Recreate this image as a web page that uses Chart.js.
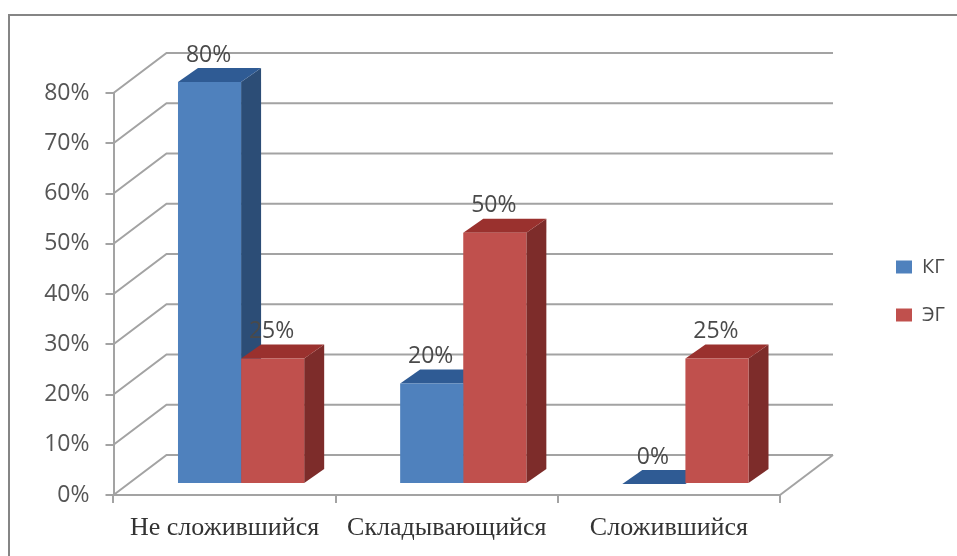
<!DOCTYPE html>
<html>
<head>
<meta charset="utf-8">
<style>
  html, body { margin: 0; padding: 0; background: #fff; }
  #wrap { width: 957px; height: 556px; position: relative; }
</style>
</head>
<body>
<div id="wrap"><canvas id="levelChart"></canvas></div>
<script src="https://cdn.jsdelivr.net/npm/chart.js@4"></script>
<script>
const categories = ['Не сложившийся', 'Складывающийся', 'Сложившийся'];
const kgValues = [80, 20, 0];
const egValues = [25, 50, 25];

// Depth of the box and of the bars, in canvas pixels
const WALL_DX = 53, WALL_DY = -40;
const BAR_SHIFT_X = 16.5, BAR_SHIFT_Y = -11;
const BAR_DX = 20, BAR_DY = -14;

const sansFont = '"Open Sans", sans-serif';

function poly(ctx, pts, color) {
    ctx.fillStyle = color;
    ctx.beginPath();
    pts.forEach((p, i) => i ? ctx.lineTo(p[0], p[1]) : ctx.moveTo(p[0], p[1]));
    ctx.closePath();
    ctx.fill();
}

// Outer frame, left wall diagonals, back wall lines and the floor edge
const boxPlugin = {
    id: 'box',
    beforeDatasetsDraw(chart) {
        const { ctx, chartArea: a, scales: { y } } = chart;
        ctx.save();
        ctx.strokeStyle = '#858585';
        ctx.lineWidth = 2;
        ctx.beginPath();
        ctx.moveTo(9, 556);
        ctx.lineTo(9, 15);
        ctx.lineTo(957, 15);
        ctx.stroke();

        ctx.strokeStyle = '#a3a3a3';
        y.ticks.forEach(t => {
            const py = y.getPixelForValue(t.value);
            ctx.beginPath();
            ctx.moveTo(a.left, py);
            ctx.lineTo(a.left + WALL_DX, py + WALL_DY);
            ctx.lineTo(a.right + WALL_DX, py + WALL_DY);
            ctx.stroke();
        });
        ctx.beginPath();
        ctx.moveTo(a.right, a.bottom);
        ctx.lineTo(a.right + WALL_DX, a.bottom + WALL_DY);
        ctx.stroke();
        ctx.restore();
    }
};

// Side and top faces of every bar go down first; Chart.js then paints the
// front faces on a shifted context, red first and blue after it
const bar3dPlugin = {
    id: 'bar3d',
    beforeDatasetsDraw(chart) {
        const { ctx } = chart;
        ctx.save();
        ctx.translate(BAR_SHIFT_X, BAR_SHIFT_Y);
        chart.data.datasets.forEach((ds, i) => {
            chart.getDatasetMeta(i).data.forEach(bar => {
                const l = bar.x - bar.width / 2, r = bar.x + bar.width / 2;
                poly(ctx, [[r, bar.y], [r + BAR_DX, bar.y + BAR_DY], [r + BAR_DX, bar.base + BAR_DY], [r, bar.base]], ds.sideColor);
                poly(ctx, [[l, bar.y], [l + BAR_DX, bar.y + BAR_DY], [r + BAR_DX, bar.y + BAR_DY], [r, bar.y]], ds.topColor);
            });
        });
        ctx.restore();
    },
    beforeDatasetDraw(chart) {
        chart.ctx.save();
        chart.ctx.translate(BAR_SHIFT_X, BAR_SHIFT_Y);
    },
    afterDatasetDraw(chart) {
        chart.ctx.restore();
    }
};

const valueLabels = {
    id: 'valueLabels',
    afterDatasetsDraw(chart) {
        const { ctx } = chart;
        ctx.save();
        ctx.font = '23px ' + sansFont;
        ctx.fillStyle = '#4a4a4a';
        ctx.textAlign = 'center';
        ctx.textBaseline = 'middle';
        chart.data.datasets.forEach((ds, i) => {
            chart.getDatasetMeta(i).data.forEach((bar, j) => {
                ctx.fillText(ds.data[j] + '%', bar.x + BAR_SHIFT_X - 1, bar.y + BAR_SHIFT_Y - 27);
            });
        });
        ctx.restore();
    }
};

// Puts the legend in the blank strip at the right of the box
const legendSpot = {
    id: 'legendSpot',
    afterLayout(chart) {
        const lg = chart.legend;
        const w = lg.width, h = lg.height;
        lg.left = 896 - lg.options.labels.padding;
        lg.right = lg.left + w;
        lg.top = 257 - lg.options.labels.padding;
        lg.bottom = lg.top + h;
    }
};

new Chart(document.getElementById('levelChart'), {
    type: 'bar',
    data: {
        labels: categories,
        datasets: [
            { label: 'КГ', data: kgValues, backgroundColor: '#4f81bd', sideColor: '#2c4d76', topColor: '#2f5b94', clip: false },
            { label: 'ЭГ', data: egValues, backgroundColor: '#c0504d', sideColor: '#7d2c2a', topColor: '#9a312e', clip: false }
        ]
    },
    options: {
        responsive: true,
        maintainAspectRatio: false,
        animation: false,
        layout: { padding: { top: 93, left: 0, right: 177, bottom: 0 } },
        datasets: { bar: { categoryPercentage: 0.568, barPercentage: 1 } },
        plugins: {
            tooltip: { enabled: false },
            legend: {
                position: 'chartArea',
                align: 'start',
                labels: {
                    boxWidth: 16,
                    boxHeight: 13,
                    padding: 28,
                    color: '#4a4a4a',
                    font: { family: sansFont, size: 20 }
                }
            }
        },
        scales: {
            x: {
                afterFit(scale) { scale.height = 61; },
                border: { color: '#a3a3a3', width: 2 },
                grid: { drawOnChartArea: false, color: '#a3a3a3', lineWidth: 2, tickLength: 8 },
                ticks: {
                    color: '#333',
                    padding: 10,
                    maxRotation: 0,
                    font: { family: '"Liberation Serif", serif', size: 26 }
                }
            },
            y: {
                min: 0,
                max: 80,
                afterFit(scale) { scale.width = 113.5; },
                border: { color: '#a3a3a3', width: 2 },
                grid: { drawOnChartArea: false, color: '#a3a3a3', lineWidth: 2, tickLength: 8 },
                ticks: {
                    stepSize: 10,
                    color: '#555',
                    padding: 16,
                    callback: v => v + '%',
                    font: { family: sansFont, size: 23 }
                }
            }
        }
    },
    plugins: [boxPlugin, bar3dPlugin, valueLabels, legendSpot]
});
</script>
</body>
</html>
